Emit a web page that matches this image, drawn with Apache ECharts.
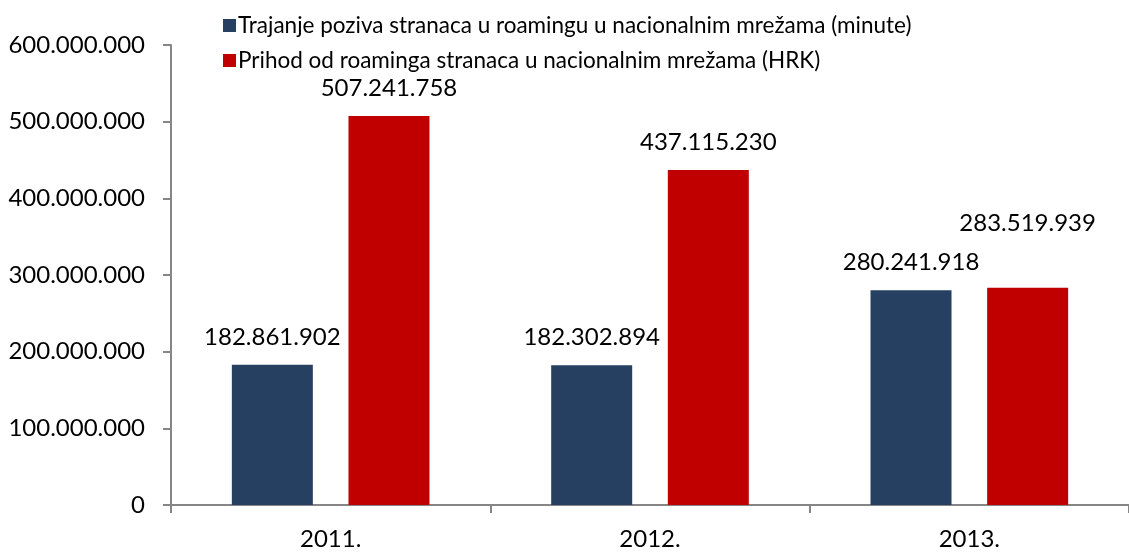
<!DOCTYPE html>
<html>
<head>
<meta charset="utf-8">
<script src="https://cdn.jsdelivr.net/npm/echarts@6/dist/echarts.min.js"></script>
<style>
html,body{margin:0;padding:0;background:#fff;}
#c{width:1129px;height:556px;}
</style>
</head>
<body>
<div id="c"></div>
<script>
const categories = ['2011.', '2012.', '2013.'];
const seriesNames = [
  'Trajanje poziva stranaca u roamingu u nacionalnim mrežama (minute)',
  'Prihod od roaminga stranaca u nacionalnim mrežama (HRK)'
];
const minutes = [182861902, 182302894, 280241918];
const revenue = [507241758, 437115230, 283519939];
const yTicks = [0, 100000000, 200000000, 300000000, 400000000, 500000000, 600000000];

const FONT = 'Lato';
function fmt(v) {
  return String(Math.round(v)).replace(/\B(?=(\d{3})+(?!\d))/g, '.');
}

const chart = echarts.init(document.getElementById('c'), null, {renderer: 'canvas'});
const labelBase = {
  show: true, position: 'top', distance: 16,
  fontFamily: FONT, fontSize: 24, color: '#000',
  formatter: p => fmt(p.value)
};
chart.setOption({
  animation: false,
  backgroundColor: '#fff',
  textStyle: {fontFamily: FONT},
  legend: {
    orient: 'vertical', left: 218, top: 9,
    itemWidth: 13, itemHeight: 13, itemGap: 12,
    icon: 'rect',
    textStyle: {fontFamily: FONT, fontSize: 22.5, color: '#000', padding: [0,0,0,-3]},
    data: seriesNames
  },
  grid: {left: 171, top: 45, width: 961, height: 460},
  xAxis: {
    type: 'category', data: categories,
    axisLine: {lineStyle: {color: '#868686', width: 2}},
    axisTick: {show: true, length: 8, lineStyle: {color: '#868686', width: 2}},
    axisLabel: {fontFamily: FONT, fontSize: 24, color: '#000', margin: 22}
  },
  yAxis: {
    type: 'value', min: yTicks[0], max: yTicks[yTicks.length-1], interval: yTicks[1]-yTicks[0],
    axisLine: {show: true, lineStyle: {color: '#868686', width: 2}},
    axisTick: {show: true, length: 8, lineStyle: {color: '#868686', width: 2}},
    splitLine: {show: false},
    axisLabel: {fontFamily: FONT, fontSize: 24, color: '#000', margin: 26, formatter: v => fmt(v)}
  },
  series: [
    {
      name: seriesNames[0], type: 'bar', data: minutes,
      barWidth: 81, barGap: '44%',
      itemStyle: {color: '#264061'},
      label: labelBase
    },
    {
      name: seriesNames[1], type: 'bar',
      data: revenue.map((v, i) => i === 2 ? {value: v, label: {offset: [0, -36]}} : v),
      barWidth: 81,
      itemStyle: {color: '#C00000'},
      label: labelBase
    }
  ]
});
</script>
</body>
</html>
